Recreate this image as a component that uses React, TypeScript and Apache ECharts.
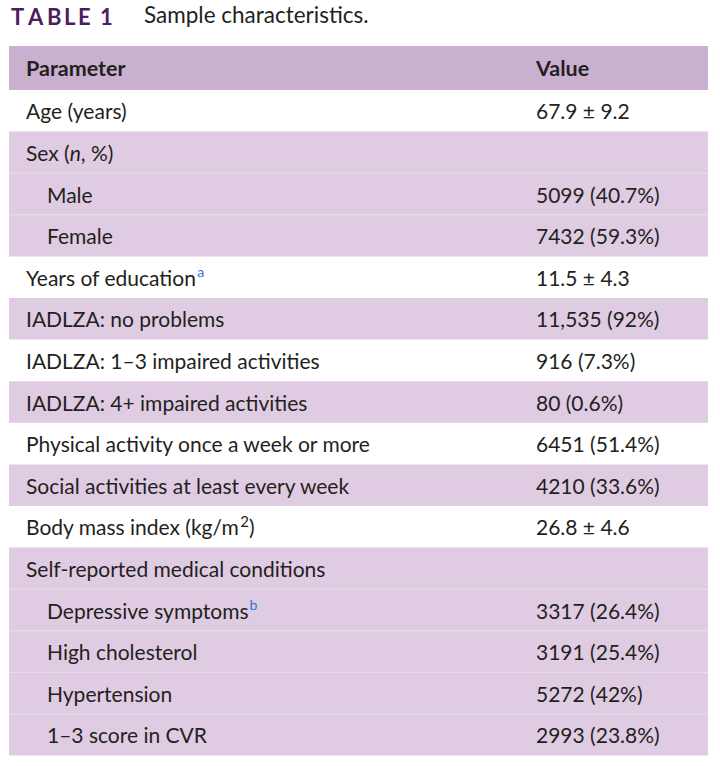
import React, { useEffect, useRef } from "react";
import * as echarts from "echarts";

const titleLabel = "TABLE 1";
const titleText = "Sample characteristics.";
const headers = ["Parameter", "Value"];

// Parameter labels (rich-text markup for italics/superscripts)
const parameters = [
  "Age (years)",
  "Sex ({i|n}, %)",
  "Male",
  "Female",
  "Years of education{supb|a}",
  "IADLZA: no problems",
  "IADLZA: 1–3 impaired activities",
  "IADLZA: 4+ impaired activities",
  "Physical activity once a week or more",
  "Social activities at least every week",
  "Body mass index (kg/m{sup|2})",
  "Self-reported medical conditions",
  "Depressive symptoms{supb|b}",
  "High cholesterol",
  "Hypertension",
  "1–3 score in CVR",
];
const values = [
  "67.9 ± 9.2",
  "",
  "5099 (40.7%)",
  "7432 (59.3%)",
  "11.5 ± 4.3",
  "11,535 (92%)",
  "916 (7.3%)",
  "80 (0.6%)",
  "6451 (51.4%)",
  "4210 (33.6%)",
  "26.8 ± 4.6",
  "",
  "3317 (26.4%)",
  "3191 (25.4%)",
  "5272 (42%)",
  "2993 (23.8%)",
];
const indentLevel = [0, 0, 1, 1, 0, 0, 0, 0, 0, 0, 0, 0, 1, 1, 1, 1];
const groupId = [0, 1, 1, 1, 2, 3, 4, 5, 6, 7, 8, 9, 9, 9, 9, 9];

const FONT = "Lato, 'Open Sans', sans-serif";
const TEXT = "#231f20";
const HEADER_BG = "#cab0d0";
const ROW_BG = "#dfcbe2";
const SEP = "#e9dcec";
const PURPLE = "#4d1d63";
const FS = 21;

const TABLE_LEFT = 9;
const TABLE_RIGHT = 708;
const HEADER_TOP = 46;
const HEADER_BOTTOM = 90;
const ROW_H = 41.6;

export default function App() {
  const ref = useRef<HTMLDivElement>(null);
  useEffect(() => {
    if (!ref.current) return;
    const chart = echarts.init(ref.current, undefined, { renderer: "svg" });

    const rich = {
      i: { fontFamily: FONT, fontSize: FS, fontStyle: "italic", fill: TEXT, lineHeight: 26 },
      sup: { fontFamily: FONT, fontSize: 15, fill: TEXT, verticalAlign: "top", lineHeight: 15, padding: [0, 0, 0, 1] },
      supb: { fontFamily: FONT, fontSize: 14, fill: "#1f78d6", verticalAlign: "top", lineHeight: 15, padding: [0, 0, 0, 1] },
    };

    const titleLetters = ["T", "A", "B", "L", "E", "1"];
    const titleXs = [11, 28, 47, 64, 78, 100];

    const graphic: any[] = [];
    titleLetters.forEach((ch, k) => {
      graphic.push({
        type: "text",
        left: titleXs[k],
        top: 5,
        style: { text: ch, fontFamily: FONT, fontWeight: "bold", fontSize: 22, fill: PURPLE },
      });
    });
    graphic.push({
      type: "text",
      left: 144,
      top: 3,
      style: { text: titleText, fontFamily: FONT, fontSize: 22.5, fill: TEXT },
    });
    graphic.push({
      type: "rect",
      shape: { x: TABLE_LEFT, y: HEADER_TOP, width: TABLE_RIGHT - TABLE_LEFT, height: HEADER_BOTTOM - HEADER_TOP },
      style: { fill: HEADER_BG },
    });
    graphic.push({
      type: "text",
      x: 26,
      y: (HEADER_TOP + HEADER_BOTTOM) / 2,
      style: { text: headers[0], fontFamily: FONT, fontWeight: "bold", fontSize: 21.5, fill: TEXT, verticalAlign: "middle" },
    });
    graphic.push({
      type: "text",
      x: 536,
      y: (HEADER_TOP + HEADER_BOTTOM) / 2,
      style: { text: headers[1], fontFamily: FONT, fontWeight: "bold", fontSize: 21.5, fill: TEXT, verticalAlign: "middle" },
    });

    const renderItem = (params: any, api: any) => {
      const i = params.dataIndex;
      const center = api.coord([0, i]);
      const h = api.size([0, 1])[1];
      const left = params.coordSys.x;
      const width = params.coordSys.width;
      const top = center[1] - h / 2;
      const shaded = groupId[i] % 2 === 1;
      const children: any[] = [];
      if (shaded) {
        children.push({ type: "rect", shape: { x: left, y: top, width, height: h }, style: { fill: ROW_BG } });
        if (i > 0 && groupId[i - 1] === groupId[i]) {
          children.push({
            type: "line",
            shape: { x1: left, y1: top, x2: left + width, y2: top },
            style: { stroke: SEP, lineWidth: 1 },
          });
        }
      }
      children.push({
        type: "text",
        x: left + 17 + indentLevel[i] * 21,
        y: center[1],
        style: {
          text: parameters[i],
          fontFamily: FONT,
          fontSize: FS,
          fill: TEXT,
          verticalAlign: "middle",
          lineHeight: 26,
          rich,
        },
      });
      if (values[i]) {
        children.push({
          type: "text",
          x: left + 527,
          y: center[1],
          style: { text: values[i], fontFamily: FONT, fontSize: FS, fill: TEXT, verticalAlign: "middle" },
        });
      }
      return { type: "group", children };
    };

    chart.setOption({
      animation: false,
      grid: {
        left: TABLE_LEFT,
        width: TABLE_RIGHT - TABLE_LEFT,
        top: HEADER_BOTTOM,
        height: ROW_H * parameters.length,
        containLabel: false,
      },
      xAxis: { type: "value", min: 0, max: 1, show: false },
      yAxis: { type: "category", data: parameters, inverse: true, show: false },
      graphic,
      series: [
        {
          type: "custom",
          renderItem,
          data: parameters.map((_, k) => [0, k]),
          encode: { x: 0, y: 1 },
          silent: true,
        },
      ],
    });
    return () => chart.dispose();
  }, []);
  return (
    <div
      ref={ref}
      style={{ position: "fixed", left: 0, top: 0, width: 720, height: 766, background: "#fff" }}
    />
  );
}
